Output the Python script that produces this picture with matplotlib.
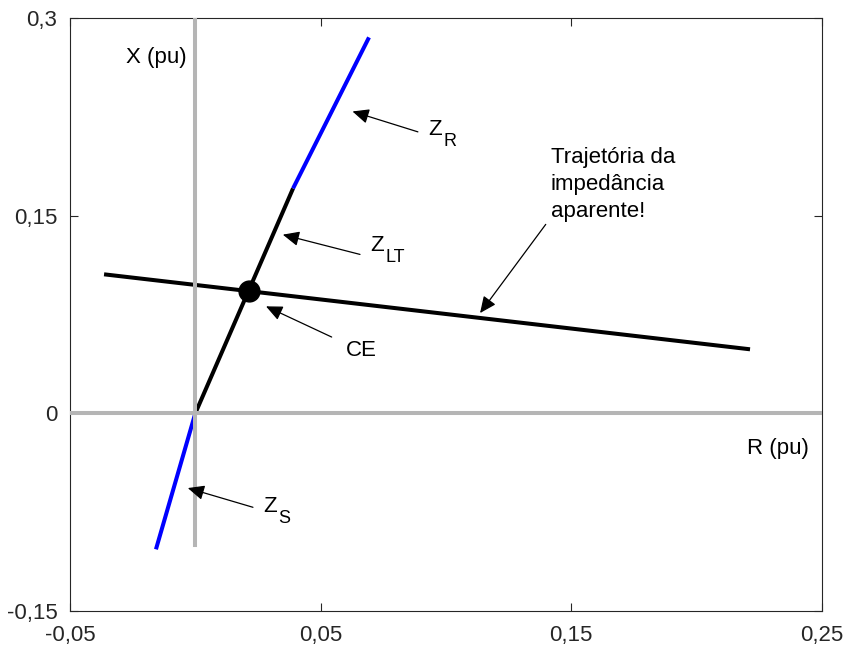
import matplotlib
matplotlib.use("Agg")
import matplotlib.pyplot as plt
from matplotlib import transforms

plt.rcParams['font.family'] = ['Liberation Sans', 'DejaVu Sans']

# impedances (R, X) in pu
zs_r = [-0.0157, 0.0]
zs_x = [-0.1032, 0.0]
zlt_r = [0.0, 0.039]
zlt_x = [0.0, 0.1707]
zr_r = [0.039, 0.0693]
zr_x = [0.1707, 0.2853]
traj_r = [-0.0364, 0.2213]
traj_x = [0.1055, 0.0486]
ce_r, ce_x = 0.0215, 0.0925

xticks = [-0.05, 0.05, 0.15, 0.25]
xlabels = ['-0,05', '0,05', '0,15', '0,25']
yticks = [-0.15, 0, 0.15, 0.3]
ylabels = ['-0,15', '0', '0,15', '0,3']

fig = plt.figure(figsize=(8.44, 6.48), dpi=100)
ax = fig.add_axes([0.0829, 0.0571, 0.8910, 0.9151])

gray = '#b5b5b5'
ax.plot(traj_r, traj_x, color='black', lw=2.9, solid_capstyle='butt', zorder=2)
ax.plot(zs_r, zs_x, color='#0000ff', lw=2.9, solid_capstyle='butt', zorder=2)
ax.plot(zlt_r, zlt_x, color='black', lw=2.9, solid_capstyle='butt', zorder=2)
ax.plot(zr_r, zr_x, color='#0000ff', lw=2.9, solid_capstyle='butt', zorder=2)
ax.axhline(0, color=gray, lw=2.9, zorder=3)
ax.plot([0, 0], [-0.10, 0.3], color=gray, lw=2.9, zorder=3)
ax.plot([ce_r], [ce_x], 'o', color='black', ms=15, zorder=4)

fs = 16
arrow = dict(arrowstyle='-|>,head_length=1.0,head_width=0.45', color='black', lw=0.9,
             shrinkA=0, shrinkB=0)

def note(label, tip, tail, pos, sub=None):
    ax.annotate('', xy=tip, xytext=tail, arrowprops=arrow, zorder=5)
    ax.text(pos[0], pos[1], label, fontsize=fs, va='baseline', ha='left')
    if sub:
        # subscript: slightly smaller, shifted right of the Z and down
        tr = transforms.offset_copy(ax.transData, fig=fig, x=15, y=-11, units='dots')
        ax.text(pos[0], pos[1], sub, fontsize=13, va='baseline', ha='left', transform=tr)

# text positions are baselines of the main letter
note('Z', (0.0627, 0.2291), (0.0888, 0.2136), (0.0930, 0.2112), 'R')
note('Z', (0.0349, 0.1356), (0.0657, 0.1206), (0.0697, 0.1235), 'LT')
note('CE', (0.0282, 0.0812), (0.0544, 0.0579), (0.0601, 0.0432))
note('Z', (-0.0030, -0.0567), (0.0230, -0.0713), (0.0271, -0.0750), 'S')
ax.annotate('', xy=(0.1136, 0.0761), xytext=(0.1398, 0.1434), arrowprops=arrow, zorder=5)
ax.text(0.1418, 0.2020, 'Trajetória da\nimpedância\naparente!', fontsize=fs,
        va='top', ha='left', linespacing=1.38)

ax.text(-0.0033, 0.2701, 'X (pu)', fontsize=fs, ha='right', va='center')
ax.text(0.2448, -0.0266, 'R (pu)', fontsize=fs, ha='right', va='center')

ax.set_xlim(-0.05, 0.25)
ax.set_ylim(-0.15, 0.3)
ax.set_xticks(xticks)
ax.set_xticklabels(xlabels)
ax.set_yticks(yticks)
ax.set_yticklabels(ylabels)
ax.tick_params(direction='in', length=6, width=0.8, labelsize=fs, colors='#262626',
               top=True, right=True)
ax.tick_params(axis='x', pad=10)
ax.tick_params(axis='y', pad=9)
for s in ax.spines.values():
    s.set_linewidth(0.8)
    s.set_color('#262626')

fig.savefig('out.png', dpi=100)
